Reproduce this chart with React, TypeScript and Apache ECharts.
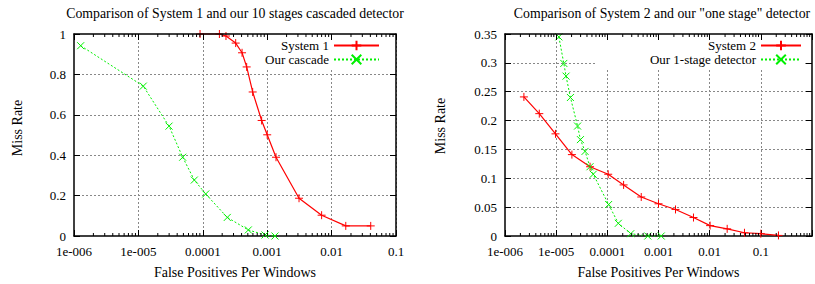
import React, { useEffect, useRef } from 'react';
import * as echarts from 'echarts';

// ---- data ----
const decadeValues = [1e-6, 1e-5, 1e-4, 1e-3, 1e-2, 1e-1];
const decadeLabels = ['1e-006', '1e-005', '0.0001', '0.001', '0.01', '0.1'];
const minorMultipliers = [2, 3, 4, 5, 6, 7, 8, 9];

const sys1Fppw = [9.06e-5, 1.81e-4, 2.29e-4, 3.24e-4, 4.07e-4, 4.8e-4, 5.95e-4, 8.2e-4, 1.0e-3, 1.37e-3, 3.12e-3, 7.0e-3, 1.66e-2, 4.05e-2];
const sys1Miss = [1.0, 1.0, 0.99, 0.955, 0.907, 0.837, 0.713, 0.572, 0.501, 0.39, 0.187, 0.103, 0.05, 0.05];

const cascadeFppw = [1.27e-6, 1.19e-5, 2.99e-5, 4.87e-5, 7.38e-5, 1.11e-4, 2.4e-4, 5.09e-4, 9.25e-4, 1.32e-3];
const cascadeMiss = [0.942, 0.742, 0.544, 0.39, 0.277, 0.208, 0.092, 0.03, 0.005, 0];

const sys2Fppw = [2.34e-6, 4.68e-6, 9.7e-6, 2.03e-5, 4.6e-5, 1.04e-4, 2.08e-4, 4.6e-4, 1.0e-3, 2.15e-3, 4.83e-3, 1.02e-2, 2.2e-2, 4.79e-2, 0.1, 0.221];
const sys2Miss = [0.241, 0.212, 0.177, 0.141, 0.12, 0.107, 0.0885, 0.0676, 0.0558, 0.046, 0.032, 0.018, 0.0124, 0.0056, 0.004, 0.001];

const oneStageFppw = [1.13e-5, 1.41e-5, 1.56e-5, 1.9e-5, 2.62e-5, 2.98e-5, 3.67e-5, 4.58e-5, 5.3e-5, 1.06e-4, 1.64e-4, 2.87e-4, 6.18e-4, 1.13e-3];
const oneStageMiss = [0.345, 0.299, 0.277, 0.24, 0.1905, 0.167, 0.1466, 0.12, 0.107, 0.0546, 0.022, 0.004, 0, 0];

const titles = [
  'Comparison of System 1 and our 10 stages cascaded detector',
  'Comparison of System 2 and our "one stage" detector',
];
const xName = 'False Positives Per Windows';
const yName = 'Miss Rate';
const legendLeft = ['System 1', 'Our cascade'];
const legendRight = ['System 2', 'Our 1-stage detector'];

// ---- style ----
const FONT = 'Liberation Serif';
const RED = '#ff0000';
const GREEN = '#00f000';
const PLUS = 'path://M0,5L10,5M5,0L5,10';
const CROSS = 'path://M0,0L10,10M10,0L0,10';

const zip = (a: number[], b: number[]) => a.map((v, i) => [v, b[i]]);

const fmtX = (v: number) => {
  const idx = decadeValues.findIndex((d) => Math.abs(Math.log10(d) - Math.log10(v)) < 1e-6);
  return idx >= 0 ? decadeLabels[idx] : '';
};

function minorTicks(maxExp: number) {
  const out: number[][] = [];
  decadeValues.forEach((d) => {
    if (Math.log10(d) < maxExp - 0.5) minorMultipliers.forEach((m) => out.push([m * d, 0]));
  });
  return out;
}

function axesFor(grid: number, xMax: number, yMax: number, yInt: number) {
  const common = { gridIndex: grid };
  const frame = { show: true, onZero: false, lineStyle: { color: '#000', width: 1.5 } };
  const tick = { show: true, inside: true, length: 6, lineStyle: { color: '#000', width: 1 } };
  const split = { show: true, showMinLine: false, showMaxLine: false, lineStyle: { color: '#888', type: [2, 2], width: 1 } };
  const xBottom = {
    ...common,
    type: 'log',
    logBase: 10,
    min: 1e-6,
    max: xMax,
    position: 'bottom',
    z: 0,
    axisLine: frame,
    axisTick: tick,
    axisLabel: { formatter: fmtX, fontSize: 13, fontFamily: FONT, color: '#000', margin: 9, showMaxLabel: true, showMinLabel: true },
    splitLine: split,
    name: xName,
    nameLocation: 'middle',
    nameGap: 29,
    nameTextStyle: { fontSize: 14, fontFamily: FONT, color: '#000' },
  };
  const xTop = {
    ...common,
    type: 'log',
    logBase: 10,
    min: 1e-6,
    max: xMax,
    position: 'top',
    z: 10,
    axisLine: frame,
    axisTick: tick,
    axisLabel: { show: false },
    splitLine: { show: false },
  };
  const yLeft = {
    ...common,
    type: 'value',
    min: 0,
    max: yMax,
    interval: yInt,
    position: 'left',
    z: 0,
    axisLine: frame,
    axisTick: tick,
    axisLabel: { fontSize: 13, fontFamily: FONT, color: '#000', margin: 8 },
    splitLine: split,
  };
  const yRight = {
    ...common,
    type: 'value',
    min: 0,
    max: yMax,
    interval: yInt,
    position: 'right',
    z: 10,
    axisLine: frame,
    axisTick: tick,
    axisLabel: { show: false },
    splitLine: { show: false },
  };
  return { x: [xBottom, xTop], y: [yLeft, yRight] };
}

function lineSeries(name: string, data: number[][], xi: number, yi: number, color: string, symbol: string, dashed: boolean) {
  return {
    type: 'line',
    name,
    xAxisIndex: xi,
    yAxisIndex: yi,
    data,
    symbol,
    symbolSize: dashed ? 7 : 8,
    showSymbol: true,
    clip: false,
    z: 3,
    lineStyle: { color, width: dashed ? 1 : 1.2, type: dashed ? [2, 2] : 'solid' },
    itemStyle: { color, borderColor: color, borderWidth: 1 },
    emphasis: { disabled: true },
  };
}

function minorSeries(xi: number, yi: number, yMax: number, maxExp: number) {
  return {
    type: 'custom',
    xAxisIndex: xi,
    yAxisIndex: yi,
    data: minorTicks(maxExp),
    silent: true,
    clip: false,
    z: 11,
    renderItem: (_p: any, api: any) => {
      const x = api.value(0);
      const b = api.coord([x, 0]);
      const t = api.coord([x, yMax]);
      return {
        type: 'group',
        children: [
          { type: 'line', shape: { x1: b[0], y1: b[1], x2: b[0], y2: b[1] - 3 }, style: { stroke: '#000', lineWidth: 1 } },
          { type: 'line', shape: { x1: t[0], y1: t[1], x2: t[0], y2: t[1] + 3 }, style: { stroke: '#000', lineWidth: 1 } },
        ],
      };
    },
  };
}

export default function App() {
  const ref = useRef<HTMLDivElement>(null);
  useEffect(() => {
    if (!ref.current) return;
    const chart = echarts.init(ref.current, undefined, { renderer: 'svg' });
    const a = axesFor(0, 0.1, 1, 0.2);
    const b = axesFor(1, 1, 0.35, 0.05);
    const legendCommon = {
      orient: 'vertical',
      align: 'right',
      top: 34,
      itemHeight: 12,
      itemGap: 1,
      backgroundColor: '#fff',
      selectedMode: false,
      z: 4,
      textStyle: { fontSize: 13, fontFamily: FONT, color: '#000' },
    };
    const titleStyle = { fontSize: 13.8, fontWeight: 'normal', fontFamily: FONT, color: '#000' };
    chart.setOption({
      animation: false,
      backgroundColor: '#fff',
      title: [
        { text: titles[0], left: 235, top: 6, textAlign: 'center', padding: 0, textStyle: titleStyle },
        { text: titles[1], left: 662, top: 6, textAlign: 'center', padding: 0, textStyle: titleStyle },
      ],
      grid: [
        { left: 74, top: 34, width: 322, height: 207, containLabel: false },
        { left: 505, top: 34, width: 313, height: 207, containLabel: false },
      ],
      xAxis: [...a.x, ...b.x],
      yAxis: [...a.y, ...b.y],
      legend: [
        { ...legendCommon, data: legendLeft, right: 815 - 396, padding: [5, 16, 2, 5], itemWidth: 45 },
        { ...legendCommon, data: legendRight, right: 10, padding: [5, 3, 2, 53], itemWidth: 40 },
      ],
      graphic: [
        { type: 'text', x: 17, y: 128, rotation: Math.PI / 2, style: { text: yName, align: 'center', verticalAlign: 'middle', fontSize: 14, fontFamily: FONT, fill: '#000' } },
        { type: 'text', x: 440, y: 126, rotation: Math.PI / 2, style: { text: yName, align: 'center', verticalAlign: 'middle', fontSize: 14, fontFamily: FONT, fill: '#000' } },
      ],
      series: [
        lineSeries(legendLeft[0], zip(sys1Fppw, sys1Miss), 0, 0, RED, PLUS, false),
        lineSeries(legendLeft[1], zip(cascadeFppw, cascadeMiss), 0, 0, GREEN, CROSS, true),
        lineSeries(legendRight[0], zip(sys2Fppw, sys2Miss), 2, 2, RED, PLUS, false),
        lineSeries(legendRight[1], zip(oneStageFppw, oneStageMiss), 2, 2, GREEN, CROSS, true),
        minorSeries(0, 0, 1, -1),
        minorSeries(2, 2, 0.35, 0),
      ],
    });
    return () => chart.dispose();
  }, []);
  return <div ref={ref} style={{ position: 'fixed', left: 0, top: 0, width: 815, height: 284 }} />;
}
